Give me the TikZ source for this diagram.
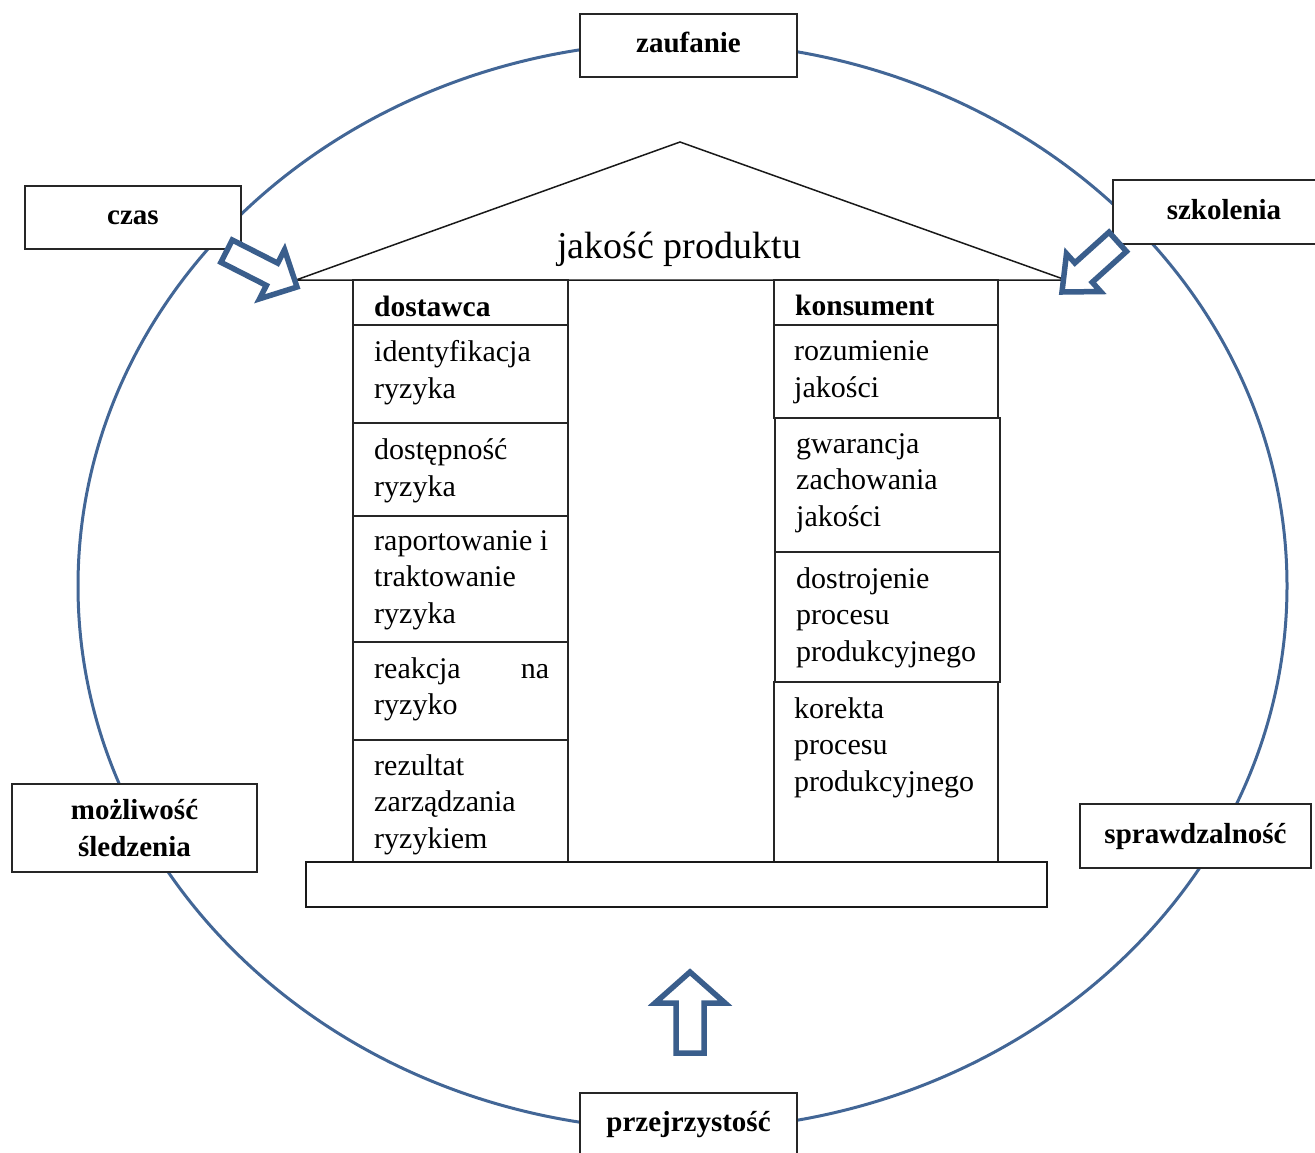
\documentclass[tikz,border=0pt]{standalone}
\usepackage{fontspec}
\setmainfont{Liberation Serif}
\definecolor{ringblue}{RGB}{66,102,150}
\definecolor{arrowblue}{RGB}{58,94,140}
\begin{document}
\begin{tikzpicture}[x=1pt,y=-1pt, line join=miter,
  frame/.style={draw=black!85, line width=1.3pt},
  lbl/.style={frame, fill=white, font=\bfseries\fontsize{29}{37}\selectfont, align=center, inner sep=0pt},
  ctext/.style={font=\fontsize{30}{36.5}\selectfont, align=left, inner sep=0pt, anchor=base west},
  htext/.style={font=\bfseries\fontsize{29.5}{36}\selectfont, inner sep=0pt, anchor=base west},
  blockarrow/.style={draw=arrowblue, line width=5.5pt, fill=white},
  ring/.style={draw=ringblue, line width=3pt},
  roof/.style={draw=black!90, line width=1.5pt}
]
\useasboundingbox (0,0) rectangle (1315,1152);
\clip (0,0) rectangle (1315,1152);

% outer ring
\draw[ring] (682.5,586) ellipse [x radius=604.5pt, y radius=544pt];

% roof
\draw[roof] (296,280) -- (680,142) -- (1066,280) -- cycle;
\node[font=\fontsize{38}{40}\selectfont, inner sep=0pt, anchor=base west] (title) at (557,258) {jakość produktu};

% left column
\draw[frame] (353,280) rectangle (568,325);
\draw[frame] (353,325) rectangle (568,423);
\draw[frame, line width=2pt] (353,423) -- (568,423);
\draw[frame] (353,423) rectangle (568,516);
\draw[frame] (353,516) rectangle (568,642);
\draw[frame] (353,642) rectangle (568,740);
\draw[frame] (353,740) rectangle (568,862);

% (base anchor of a multi-line node = baseline of its last line)
\node[htext] (dostawca) at (374,316) {dostawca};
\node[ctext] (l1) at (374,398) {identyfikacja\\ryzyka};
\node[ctext] (l2) at (374,496) {dostępność\\ryzyka};
\node[ctext] (l3) at (374,623) {raportowanie i\\traktowanie\\ryzyka};
% (with text width the base anchor is the first line)
\node[ctext, text width=175pt] (l4) at (374,678) {reakcja\hfill na\\ryzyko};
\node[ctext] (l5) at (374,848) {rezultat\\zarządzania\\ryzykiem};

% right column
\draw[frame] (774,280) rectangle (998,325);
\draw[frame, line width=2pt] (774,325) -- (998,325);
\draw[frame] (774,325) rectangle (998,418);
\draw[frame] (775,418) rectangle (1000,552);
\draw[frame] (775,552) rectangle (1000,682);
\draw[frame] (774,682) rectangle (998,862);

\node[htext] (konsument) at (795,315) {konsument};
\node[ctext] (r1) at (794,397) {rozumienie\\jakości};
\node[ctext] (r2) at (796,526) {gwarancja\\zachowania\\jakości};
\node[ctext] (r3) at (796,661) {dostrojenie\\procesu\\produkcyjnego};
\node[ctext] (r4) at (794,791) {korekta\\procesu\\produkcyjnego};

% base
\draw[draw=black!90, line width=2.6pt, fill=white] (306,862) rectangle (1047,907);

% label boxes
\node[lbl, minimum width=217pt, minimum height=63pt, text height=20pt, text depth=6pt] (zaufanie) at (688.5,45.5) {zaufanie};
\node[lbl, minimum width=216pt, minimum height=63pt, text height=20pt, text depth=6pt] (czas) at (133,217.5) {czas};
\node[lbl, minimum width=222pt, minimum height=64pt, text height=20pt, text depth=6pt] (szkolenia) at (1224,212) {szkolenia};
\node[lbl, minimum width=245pt, minimum height=88pt] (sledzenie) at (134.5,828) {możliwość\\śledzenia};
\node[lbl, minimum width=231pt, minimum height=64pt, text height=20pt, text depth=6pt] (sprawdz) at (1195.5,836) {sprawdzalność};
\node[lbl, minimum width=217pt, minimum height=63pt, text height=20pt, text depth=6pt] (przejrz) at (688.5,1124.5) {przejrzystość};

% block arrows
\draw[blockarrow, shift={(297,287)}, rotate=-27]
  (0,0) -- (-28,27.5) -- (-28,12.5) -- (-79,12.5) -- (-79,-12.5) -- (-28,-12.5) -- (-28,-27.5) -- cycle;
\draw[blockarrow, shift={(1062,292)}, rotate=222]
  (0,0) -- (-29,25.5) -- (-29,13) -- (-75,13) -- (-75,-13) -- (-29,-13) -- (-29,-25.5) -- cycle;
\draw[blockarrow, shift={(690,972)}, rotate=90]
  (0,0) -- (-31,35) -- (-31,14) -- (-81,14) -- (-81,-14) -- (-31,-14) -- (-31,-35) -- cycle;
\end{tikzpicture}
\end{document}
